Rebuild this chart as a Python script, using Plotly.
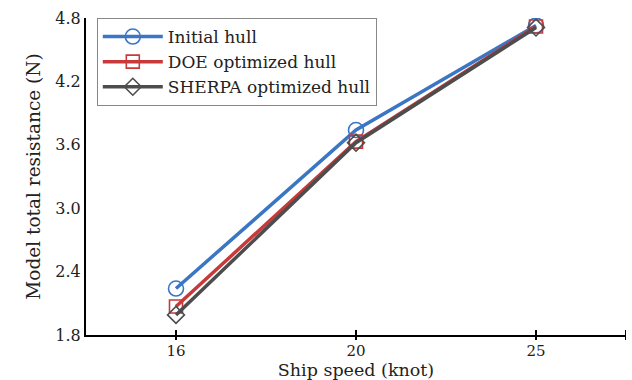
import plotly.graph_objects as go

# Ship speed categories (knot) and model total resistance (N)
speeds = ["16", "20", "25"]
initial_hull = [2.24, 3.74, 4.73]
doe_hull = [2.07, 3.63, 4.72]
sherpa_hull = [1.99, 3.62, 4.71]
y_ticks = [1.8, 2.4, 3.0, 3.6, 4.2, 4.8]

series = [
    ("Initial hull", initial_hull, "#3a76c4", "circle-open", 15),
    ("DOE optimized hull", doe_hull, "#c83a3a", "square-open", 13),
    ("SHERPA optimized hull", sherpa_hull, "#4d4d4d", "diamond-open", 13),
]

fig = go.Figure()
for name, vals, color, symbol, size in series:
    fig.add_trace(go.Scatter(
        x=speeds, y=vals, name=name, mode="lines+markers",
        line=dict(color=color, width=3.5),
        marker=dict(symbol=symbol, size=size, color=color,
                    line=dict(color=color, width=1.6)),
    ))

font_family = "DejaVu Serif"

# crossing x ticks at each speed, plus the closing tick at the axis end
for xv in [0, 1, 2, 2.5]:
    fig.add_shape(type="line", xref="x", yref="paper", x0=xv, x1=xv,
                  y0=-0.016, y1=0.016, line=dict(color="black", width=2))

fig.update_layout(
    width=632, height=380,
    margin=dict(l=86, r=6, t=18, b=45),
    paper_bgcolor="white", plot_bgcolor="white",
    font=dict(family=font_family, size=16, color="#222222"),
    showlegend=True,
    legend=dict(
        x=0.02, y=1.0, xanchor="left", yanchor="top",
        bordercolor="#888888", borderwidth=1, bgcolor="white",
        font=dict(family=font_family, size=17, color="#222222"),
        tracegroupgap=0, itemwidth=60,
    ),
    xaxis=dict(
        type="category", range=[-0.5, 2.5],
        showline=True, linecolor="black", linewidth=2,
        ticks="", ticklabelstandoff=1,
        showgrid=False, zeroline=False,
        tickfont=dict(family=font_family, size=15),
        title=dict(text="Ship speed (knot)", standoff=3,
                   font=dict(family=font_family, size=17.5)),
    ),
    yaxis=dict(
        range=[1.8, 4.8], tickvals=y_ticks,
        ticktext=[f"{v:.1f}" for v in y_ticks],
        showline=True, linecolor="black", linewidth=2,
        ticks="", showgrid=False, zeroline=False,
        tickfont=dict(family=font_family, size=16),
        title=dict(text="Model total resistance (N)", standoff=10,
                   font=dict(family=font_family, size=18.5)),
    ),
)

fig.write_html("out.html")
